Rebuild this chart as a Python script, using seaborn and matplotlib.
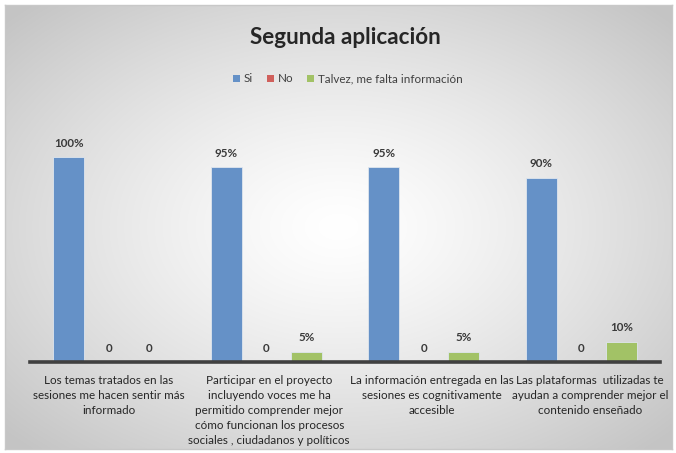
import numpy as np
import pandas as pd
import matplotlib
matplotlib.use("Agg")
import matplotlib.pyplot as plt
import matplotlib.transforms as mtransforms
from matplotlib.patches import Patch
import seaborn as sns

categories = [
    "Los temas tratados en las\nsesiones me hacen sentir más\ninformado",
    "Participar en el proyecto\nincluyendo voces me ha\npermitido comprender mejor\ncómo funcionan los procesos\nsociales , ciudadanos y políticos",
    "La información entregada en las\nsesiones es cognitivamente\naccesible",
    "Las plataformas  utilizadas te\nayudan a comprender mejor el\ncontenido enseñado",
]
series_names = ["Si", "No", "Talvez, me falta información"]
si_values = [100, 95, 95, 90]
no_values = [0, 0, 0, 0]
talvez_values = [0, 5, 5, 10]
colors = ["#6591C7", "#D0605C", "#A2C266"]

rows = []
for name, vals in zip(series_names, [si_values, no_values, talvez_values]):
    for c, v in zip(categories, vals):
        rows.append({"cat": c, "serie": name, "val": v})
df = pd.DataFrame(rows)

sns.set_theme(style="white")
plt.rcParams["font.family"] = ["Lato", "DejaVu Sans"]

W, H = 676, 453
fig = plt.figure(figsize=(W / 100, H / 100), dpi=100)
fig.patch.set_facecolor("white")

# background gradient panel
bg = fig.add_axes([5 / W, 4 / H, 667 / W, 444 / H])
yy, xx = np.mgrid[-1:1:300j, -1:1:450j]
r = np.sqrt((xx * 0.95) ** 2 + (yy * 0.95) ** 2)
shade = 1.0 - 0.23 * np.clip(r / 1.3, 0, 1) ** 1.3
img = np.dstack([shade, shade, shade])
bg.imshow(img, aspect="auto", extent=[0, 1, 0, 1], interpolation="bilinear")
bg.set_xticks([]); bg.set_yticks([])
for s in bg.spines.values():
    s.set_color("#c8c8c8")
    s.set_linewidth(1)
bg.set_zorder(0)

ax = fig.add_axes([30 / W, (H - 362) / H, 630 / W, 246 / H])
ax.set_zorder(1)
ax.patch.set_alpha(0)

sns.barplot(data=df, x="cat", y="val", hue="serie", hue_order=series_names,
            palette=colors, saturation=1, width=0.762, gap=0.22, ax=ax,
            legend=False, edgecolor="#dfe6ee", linewidth=0.6)

ax.set_ylim(0, 120)
ax.set_xlim(-0.5, len(categories) - 0.5)
ax.set_xlabel(""); ax.set_ylabel("")
ax.set_yticks([])
for s in ["top", "right", "left"]:
    ax.spines[s].set_visible(False)
ax.spines["bottom"].set_color("#404040")
ax.spines["bottom"].set_linewidth(2.6)
ax.tick_params(axis="x", length=0, pad=9, labelsize=8.4, labelcolor="#262626")
shifts = [0, 3, 8, 9]
for t, dx in zip(ax.get_xticklabels(), shifts):
    t.set_linespacing(1.45)
    t.set_verticalalignment("top")
    t.set_transform(t.get_transform() +
                    mtransforms.ScaledTranslation(dx / 100, 0, fig.dpi_scale_trans))

for cont, vals in zip(ax.containers, [si_values, no_values, talvez_values]):
    labels = [f"{v}%" if v > 0 else "0" for v in vals]
    ax.bar_label(cont, labels=labels, padding=6, fontsize=8.4,
                 fontweight="bold", color="#3a3a3a")

fig.text(345 / W, 1 - 38 / H, "Segunda aplicación", ha="center", va="center",
         fontsize=16.2, fontweight="bold", color="#262626")

handles = [Patch(facecolor=c, edgecolor="none") for c in colors]
fig.legend(handles, series_names, loc="center", bbox_to_anchor=(348 / W, 1 - 79 / H),
           ncol=3, frameon=False, fontsize=8.4, handlelength=0.6, handleheight=0.6,
           handletextpad=0.3, columnspacing=1.2, labelcolor="#404040")

fig.savefig("out.png", dpi=100)
